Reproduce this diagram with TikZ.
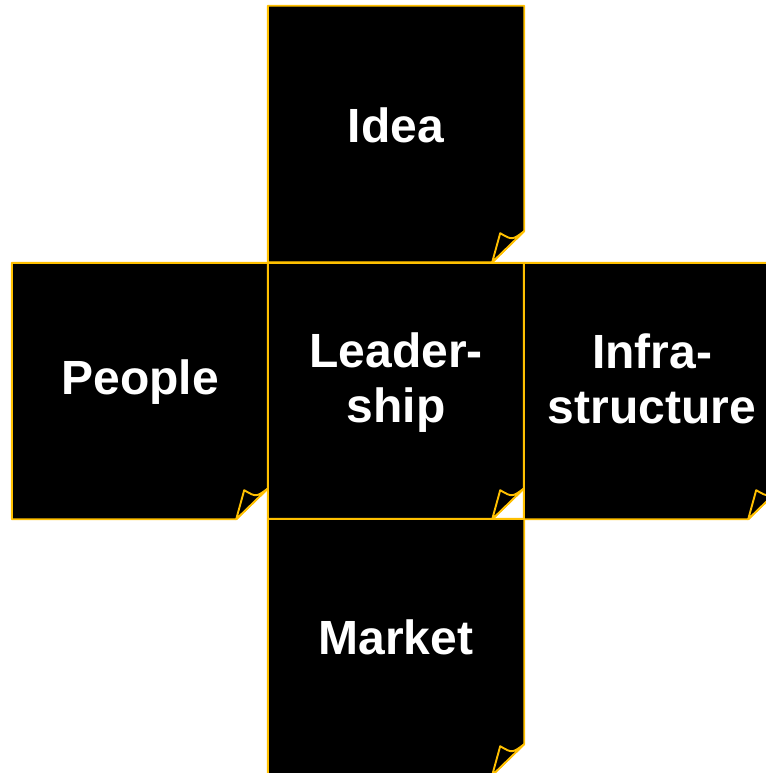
\documentclass[tikz,border=0pt]{standalone}
\usepackage{fontspec}
\setmainfont{Liberation Sans}
\usepackage{tikz}
\usetikzlibrary{calc}
\definecolor{gold}{HTML}{FFC000}
\tikzstyle{note}=[rectangle,minimum width=256pt,minimum height=256pt,inner sep=0pt]
\tikzstyle{notetext}=[text=white,align=center,font=\bfseries\fontsize{48}{55}\selectfont]
\tikzstyle{sheet}=[draw=gold,fill=black,line width=1.9pt,line join=round]

\begin{document}
\begin{tikzpicture}[x=1pt,y=-1pt]
\useasboundingbox (0,0) rectangle (765,773);
\node[note] (idea) at (396,134) {};
\node[note] (people) at (140,391) {};
\node[note] (lead) at (396,391) {};
\node[note] (infra) at (652,391) {};
\node[note] (market) at (396,647) {};
%Drawing sheets
\foreach \n in {idea,people,lead,infra,market}{
  \draw[sheet] (\n.north west) -- (\n.north east) -- ($(\n.south east)+(0,-31)$)
    -- ($(\n.south east)+(-32,0)$) -- (\n.south west) -- cycle;
  \draw[sheet] ($(\n.south east)+(-32,0)$) -- ($(\n.south east)+(-24,-29)$)
    .. controls ($(\n.south east)+(-12,-22)$) .. ($(\n.south east)+(0,-31)$) -- cycle;
}
%Texts
\node[notetext] (ideaT) at ([yshift=9pt]idea.center) {Idea};
\node[notetext] (peopleT) at ([yshift=9pt]people.center) {People};
\node[notetext] (leadT) at ([yshift=8pt]lead.center) {Leader-\\ship};
\node[notetext] (infraT) at ([yshift=12pt]infra.center) {Infra-\\structure};
\node[notetext] (marketT) at ([yshift=10pt]market.center) {Market};
\end{tikzpicture}
\end{document}
